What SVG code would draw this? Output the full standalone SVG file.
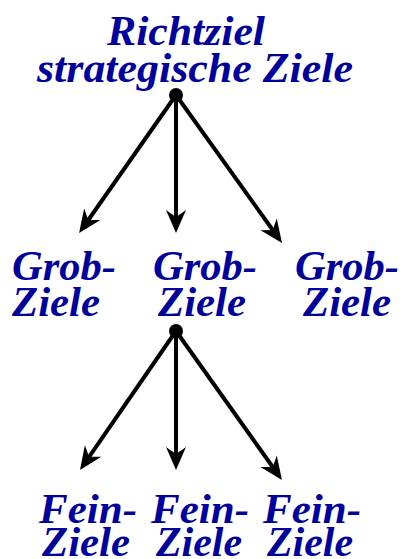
<svg xmlns="http://www.w3.org/2000/svg" width="400" height="559" viewBox="0 0 400 559">
<style>
.t{font-family:"Liberation Serif","Times New Roman",serif;font-weight:bold;font-style:italic;font-size:42px;fill:#00009c}
.c{stroke:#000;stroke-width:4;fill:none}
</style>
<defs>
<marker id="ah" markerUnits="userSpaceOnUse" viewBox="-8 -11 26 22" refX="0" refY="0" markerWidth="26" markerHeight="22" orient="auto">
<path d="M16,0 L-7,-10 L0,0 L-7,10 Z" fill="#000"/>
</marker>
</defs>
<rect width="400" height="559" fill="#fff"/>
<g id="richtziel">
<text class="t" x="107" y="45" textLength="158" lengthAdjust="spacingAndGlyphs">Richtziel</text>
<text class="t" x="37" y="82" textLength="316" lengthAdjust="spacingAndGlyphs">strategische Ziele</text>
</g>
<g id="grob1"><text class="t" x="12" y="280" textLength="104" lengthAdjust="spacingAndGlyphs">Grob-</text><text class="t" x="12" y="316" textLength="88" lengthAdjust="spacingAndGlyphs">Ziele</text></g>
<g id="grob2"><text class="t" x="153" y="280" textLength="104" lengthAdjust="spacingAndGlyphs">Grob-</text><text class="t" x="158" y="316" textLength="88" lengthAdjust="spacingAndGlyphs">Ziele</text></g>
<g id="grob3"><text class="t" x="295" y="280" textLength="104" lengthAdjust="spacingAndGlyphs">Grob-</text><text class="t" x="303" y="316" textLength="88" lengthAdjust="spacingAndGlyphs">Ziele</text></g>
<g id="fein1"><text class="t" x="39" y="523" textLength="98" lengthAdjust="spacingAndGlyphs">Fein-</text><text class="t" x="42" y="556" textLength="88" lengthAdjust="spacingAndGlyphs">Ziele</text></g>
<g id="fein2"><text class="t" x="151" y="523" textLength="98" lengthAdjust="spacingAndGlyphs">Fein-</text><text class="t" x="156" y="556" textLength="86" lengthAdjust="spacingAndGlyphs">Ziele</text></g>
<g id="fein3"><text class="t" x="263" y="523" textLength="98" lengthAdjust="spacingAndGlyphs">Fein-</text><text class="t" x="267" y="556" textLength="86" lengthAdjust="spacingAndGlyphs">Ziele</text></g>
<g id="connectors">
<line class="c" x1="176" y1="95" x2="88.3" y2="220" marker-end="url(#ah)"/>
<line class="c" x1="176" y1="95" x2="176" y2="217" marker-end="url(#ah)"/>
<line class="c" x1="176" y1="95" x2="272.7" y2="230" marker-end="url(#ah)"/>
<line class="c" x1="176" y1="331" x2="89.1" y2="456.8" marker-end="url(#ah)"/>
<line class="c" x1="176" y1="331" x2="176" y2="454" marker-end="url(#ah)"/>
<line class="c" x1="176" y1="331" x2="272.7" y2="467" marker-end="url(#ah)"/>
<circle cx="176" cy="95" r="7" fill="#000"/>
<circle cx="176" cy="331" r="7" fill="#000"/>
</g>
</svg>
